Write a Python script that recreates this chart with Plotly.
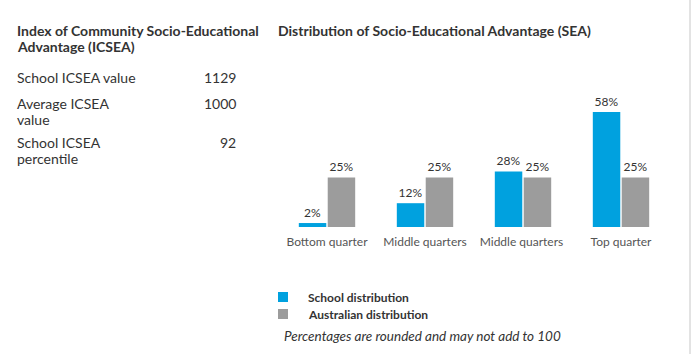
import plotly.graph_objects as go

categories = ["Bottom quarter", "Middle quarters", "Middle quarters ", "Top quarter"]
school = [2, 12, 28, 58]
australia = [25, 25, 25, 25]
info_labels = ["School ICSEA value", "Average ICSEA<br>value", "School ICSEA<br>percentile"]
info_values = ["1129", "1000", "92"]

W, H = 693, 354
BLUE = "#00A1DF"
GRAY = "#9C9C9C"
TXT = "#333333"
FONT = "Lato, 'Open Sans', sans-serif"
LH = 16  # line height in px

def py(y):  # pixel y from top -> paper
    return 1 - y / H

def px(x):
    return x / W

fig = go.Figure()
fig.add_trace(go.Bar(x=categories, y=school, name="School distribution",
                     marker=dict(color=BLUE, line=dict(width=0)),
                     text=[f"{v}%" for v in school], textposition="outside",
                     textfont=dict(size=12, color=TXT), cliponaxis=False))
fig.add_trace(go.Bar(x=categories, y=australia, name="Australian distribution",
                     marker=dict(color=GRAY, line=dict(width=0)),
                     text=[f"{v}%" for v in australia], textposition="outside",
                     textfont=dict(size=12, color=TXT), cliponaxis=False))

ann = []

def text_block(x, ycenter, text, size, bold=False, anchor="left"):
    for i, line in enumerate(text.split("<br>")):
        t = f"<b>{line}</b>" if bold else line
        ann.append(dict(x=px(x), y=py(ycenter + i * LH), xref="paper", yref="paper",
                        xanchor=anchor, yanchor="middle", text=t, showarrow=False,
                        font=dict(size=size, color=TXT, family=FONT)))

text_block(15, 30, "Index of Community Socio-Educational<br>Advantage (ICSEA)", 14, bold=True)
text_block(276, 30, "Distribution of Socio-Educational Advantage (SEA)", 14, bold=True)
rows_y = [78, 103, 142]
for lab, val, y in zip(info_labels, info_values, rows_y):
    text_block(15, y, lab, 14)
    text_block(238, y, val, 14, anchor="right")

legend_items = [("School distribution", BLUE, 297), ("Australian distribution", GRAY, 314)]
shapes = []
for name, col, y in legend_items:
    shapes.append(dict(type="rect", xref="paper", yref="paper",
                       x0=px(278), x1=px(288), y0=py(y - 5), y1=py(y + 5),
                       fillcolor=col, line=dict(width=0)))
    ann.append(dict(x=px(306), y=py(y), xref="paper", yref="paper", xanchor="left", yanchor="middle",
                    text=f"<b>{name}</b>", showarrow=False,
                    font=dict(size=12, color=TXT, family=FONT)))
ann.append(dict(x=px(282), y=py(336), xref="paper", yref="paper", xanchor="left", yanchor="middle",
                text="<i>Percentages are rounded and may not add to 100</i>", showarrow=False,
                font=dict(size=13.5, color=TXT, family=FONT)))
shapes.append(dict(type="line", xref="paper", yref="paper", x0=px(690), x1=px(690), y0=0, y1=1,
                   line=dict(color="#E3E3E3", width=2)))

fig.update_layout(
    width=W, height=H, margin=dict(l=0, r=0, t=0, b=0),
    paper_bgcolor="white", plot_bgcolor="white",
    font=dict(family=FONT, color=TXT),
    barmode="group", bargap=0.41, bargroupgap=0.05,
    showlegend=False,
    xaxis=dict(domain=[px(278), px(670)], showgrid=False, showline=False, zeroline=False,
               ticks="", tickfont=dict(size=12, color="#555555"), ticklabelstandoff=6),
    yaxis=dict(domain=[py(227), py(108)], range=[0, 60], visible=False),
    annotations=ann, shapes=shapes,
)
fig.write_html("out.html")
